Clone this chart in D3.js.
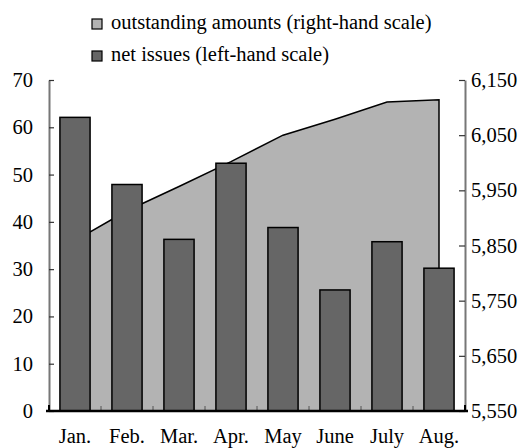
<!DOCTYPE html>
<html><head><meta charset="utf-8">
<script src="https://cdn.jsdelivr.net/npm/d3@7"></script>
<style>body{margin:0;background:#fff}svg{display:block}</style>
</head><body><svg id="c" width="532" height="448"></svg>
<script>
const months = ["Jan.","Feb.","Mar.","Apr.","May","June","July","Aug."];
const netIssues = [62.1, 47.9, 36.3, 52.4, 38.8, 25.6, 35.8, 30.2];
const outstanding = [5859, 5913, 5957, 6002, 6050, 6079, 6110, 6114];
const leftTicks = [0,10,20,30,40,50,60,70];
const rightTicks = [5550,5650,5750,5850,5950,6050,6150];
const legendLabels = ["outstanding amounts (right-hand scale)","net issues (left-hand scale)"];

const FONT = "Liberation Serif";
const svg = d3.select("#c");
const L = 49, R = 465, T = 80, B = 411;
const fs = 20.5;
const x = d3.scaleBand().domain(months).range([L,R]).paddingInner(0.42).paddingOuter(0.21);
const xc = d => x(d) + x.bandwidth()/2;
const yL = d3.scaleLinear().domain([0,70]).range([B,T]);
const yR = d3.scaleLinear().domain([5550,6150]).range([B,T]);

// area
const area = d3.area().x((d,i)=>xc(months[i])).y0(B).y1(d=>yR(d));
svg.append("path").datum(outstanding).attr("d", area)
  .attr("fill","#b3b3b3").attr("stroke","#000").attr("stroke-width",1.5).attr("stroke-linejoin","miter");

// bottom inner ticks at category boundaries
const step = x.step();
svg.append("g").selectAll("line").data(months.slice(1)).join("line")
  .attr("x1",(d,i)=>L+step*(i+1)).attr("x2",(d,i)=>L+step*(i+1))
  .attr("y1",B).attr("y2",B-5).attr("stroke","#555").attr("stroke-width",1);

// bars
svg.append("g").selectAll("rect").data(netIssues).join("rect")
  .attr("x",(d,i)=>x(months[i])).attr("width",x.bandwidth())
  .attr("y",d=>yL(d)).attr("height",d=>B-yL(d))
  .attr("fill","#666666").attr("stroke","#000").attr("stroke-width",1.5);

// left axis
const gl = svg.append("g").attr("transform",`translate(${L},0)`)
  .call(d3.axisLeft(yL).tickValues(leftTicks).tickSizeInner(-5).tickSizeOuter(0).tickPadding(16));
gl.attr("font-family",null).attr("font-size",null);
gl.select(".domain").attr("stroke","#777").attr("stroke-width",2);
gl.selectAll(".tick line").attr("stroke","#333").attr("stroke-width",1.2);
gl.selectAll("text").attr("fill","#000").attr("font-size",fs).style("font-family",FONT);

// right axis
const gr = svg.append("g").attr("transform",`translate(${R},0)`)
  .call(d3.axisRight(yR).tickValues(rightTicks).tickFormat(d3.format(",")).tickSizeInner(-6).tickSizeOuter(0).tickPadding(6));
gr.attr("font-family",null).attr("font-size",null);
gr.select(".domain").attr("stroke","#777").attr("stroke-width",2);
gr.selectAll(".tick line").attr("stroke","#333").attr("stroke-width",1.2);
gr.selectAll("text").attr("fill","#000").attr("font-size",fs).style("font-family",FONT);

// bottom axis line
svg.append("line").attr("x1",L-3).attr("x2",R+3).attr("y1",B).attr("y2",B)
  .attr("stroke","#000").attr("stroke-width",2.5);
svg.append("line").attr("x1",L).attr("x2",L).attr("y1",B-6).attr("y2",B).attr("stroke","#000").attr("stroke-width",2);
svg.append("line").attr("x1",R).attr("x2",R).attr("y1",B-6).attr("y2",B).attr("stroke","#000").attr("stroke-width",2);

// month labels
svg.append("g").selectAll("text").data(months).join("text")
  .attr("x",d=>xc(d)).attr("y",443).attr("text-anchor","middle")
  .attr("font-size",fs).style("font-family",FONT).text(d=>d);

// legend
const legFill = ["#b3b3b3","#666666"];
const lg = svg.append("g");
legendLabels.forEach((t,i)=>{
  const yy = 19 + i*32;
  lg.append("rect").attr("x",92).attr("y",yy).attr("width",10).attr("height",10)
    .attr("fill",legFill[i]).attr("stroke","#000").attr("stroke-width",1.2);
  lg.append("text").attr("x",111).attr("y",yy+10)
    .attr("font-size",fs).style("font-family",FONT).text(t);
});
</script></body></html>
